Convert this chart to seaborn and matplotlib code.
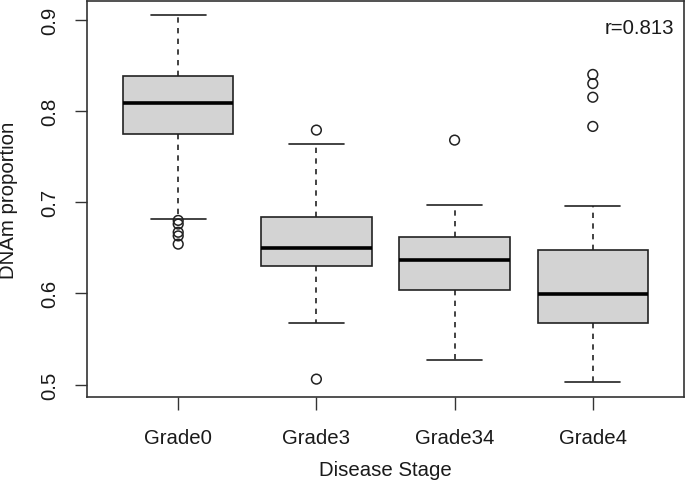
import matplotlib
matplotlib.use("Agg")
import matplotlib.pyplot as plt
import seaborn as sns
import pandas as pd

# ---- data ----
categories = ["Grade0", "Grade3", "Grade34", "Grade4"]
whisker_low = [0.681, 0.567, 0.527, 0.503]
q1 = [0.775, 0.630, 0.604, 0.567]
median = [0.809, 0.650, 0.637, 0.599]
q3 = [0.838, 0.684, 0.662, 0.648]
whisker_high = [0.905, 0.764, 0.697, 0.696]
outliers_grade0 = [0.680, 0.676, 0.667, 0.663, 0.654]
outliers_grade3 = [0.779, 0.506]
outliers_grade34 = [0.768]
outliers_grade4 = [0.840, 0.830, 0.815, 0.783]
y_ticks = [0.5, 0.6, 0.7, 0.8, 0.9]
r_label = "r=0.813"

# ---- build long-form tables ----
rows = []
for i, c in enumerate(categories):
    for v in (whisker_low[i], q1[i], median[i], q3[i], whisker_high[i]):
        rows.append({"grade": c, "value": v})
box_df = pd.DataFrame(rows)
out_rows = []
for c, vals in zip(categories, [outliers_grade0, outliers_grade3,
                                outliers_grade34, outliers_grade4]):
    for v in vals:
        out_rows.append({"grade": c, "value": v})
out_df = pd.DataFrame(out_rows)

sns.set_style("ticks")
plt.rcParams["font.family"] = ["Liberation Sans", "DejaVu Sans"]
fs = 14.7
ink = "#1a1a1a"

fig = plt.figure(figsize=(6.85, 4.81), dpi=100)
ax = fig.add_axes([87 / 685, 1 - 398 / 481, 597 / 685, 396 / 481])

sns.boxplot(data=box_df, x="grade", y="value", order=categories, ax=ax,
            color="#d3d3d3", saturation=1, width=0.8, whis=(0, 100),
            linecolor="#222222", linewidth=1.2, fliersize=0,
            medianprops={"color": "black", "linewidth": 2.6},
            whiskerprops={"linestyle": (0, (3.2, 3.2))})

sns.stripplot(data=out_df, x="grade", y="value", order=categories, ax=ax,
              jitter=False, color="#222222", marker="o", size=7.0,
              linewidth=1.1, edgecolor="#222222")
for coll in ax.collections:
    coll.set_facecolor("none")
    coll.set_edgecolor("#222222")

ax.set_xlim(-0.66, 3.66)
ax.set_ylim(0.4864, 0.9205)
ax.set_yticks(y_ticks)
ax.set_yticklabels([f"{t:.1f}" for t in y_ticks])

for s in ax.spines.values():
    s.set_visible(True)
    s.set_color("#333333")
    s.set_linewidth(1.2)

ax.tick_params(axis="both", length=9, width=1.0, color="#333333",
               labelsize=fs, labelcolor=ink)
ax.tick_params(axis="x", pad=13)
ax.tick_params(axis="y", pad=11)
plt.setp(ax.get_yticklabels(), rotation=90, va="center")

ax.set_xlabel("Disease Stage", fontsize=fs, color=ink, va="center")
ax.set_ylabel("DNAm proportion", fontsize=fs, color=ink, va="center")
ax.xaxis.set_label_coords(0.5, (398 - 470) / 396)
ax.yaxis.set_label_coords((9 - 87) / 597, 0.5)

ax.text(0.984, 0.932, r_label, transform=ax.transAxes, ha="right",
        va="center", fontsize=fs, color=ink)

fig.savefig("out.png", dpi=100)
